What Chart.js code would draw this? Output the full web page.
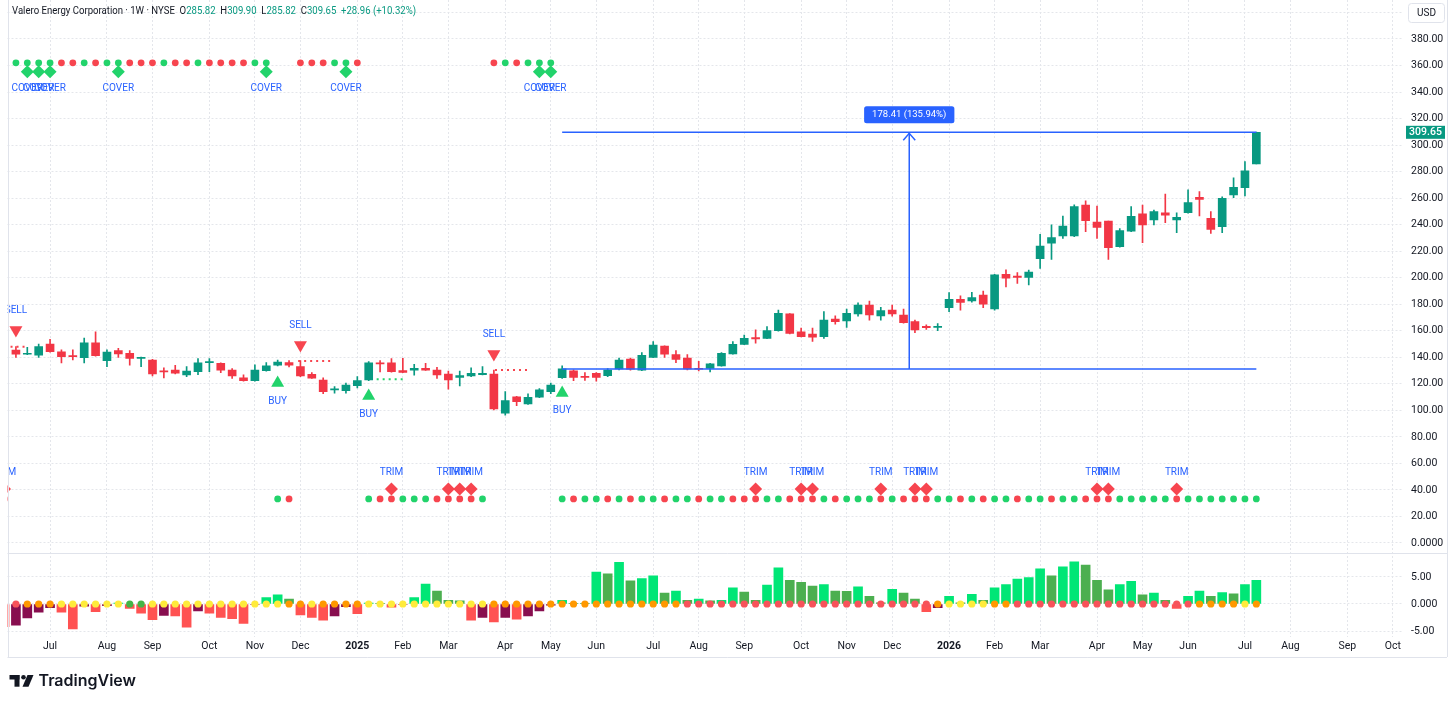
<!DOCTYPE html>
<html>
<head>
<meta charset="utf-8">
<title>VLO weekly</title>
<script src="https://cdn.jsdelivr.net/npm/chart.js@4.4.1/dist/chart.umd.min.js"></script>
<style>
  html, body { margin: 0; padding: 0; background: #fff; }
  #wrap { width: 1456px; height: 705px; }
</style>
</head>
<body>
<div id="wrap"><canvas id="chart" width="1456" height="705"></canvas></div>
<script>
// weekly bars, index 0 = week of 2024-06-03
const weekStart = Date.UTC(2024, 5, 3);
const axisWeeks = 124;
const monthNames = ['Jan','Feb','Mar','Apr','May','Jun','Jul','Aug','Sep','Oct','Nov','Dec'];

const opens = [null,
  145.5, 142.3, 141.7, 150.0, 144.2, 141.2, 139.7, 151.0, 137.5, 145.0,
  143.0, 139.2, 138.0, 129.7, 130.4, 126.7, 129.2, 136.0, 135.5, 130.4,
  124.6, 122.4, 129.9, 134.0, 136.0, 133.0, 127.2, 122.9, 115.5, 114.8,
  118.6, 122.9, 135.9, 135.9, 130.0, 130.4, 131.7, 130.4, 127.4, 124.9,
  125.9, 126.9, 127.4, 97.8, 110.3, 104.8, 109.9, 114.1, 124.6, 129.9,
  125.6, 128.0, 126.2, 131.2, 138.7, 130.4, 140.0, 148.5, 142.0, 139.5,
  131.7, 131.7, 133.5, 142.5, 149.8, 154.8, 154.3, 160.1, 172.7, 159.3,
  157.6, 155.5, 168.9, 167.4, 172.7, 179.4, 171.2, 175.7, 171.9, 166.9,
  163.4, 162.6, 177.5, 183.8, 182.5, 187.0, 176.4, 202.6, 201.3, 200.3,
  214.3, 226.0, 231.5, 231.5, 254.8, 242.0, 242.8, 223.4, 235.2, 248.1,
  243.5, 249.0, 243.5, 249.0, 260.6, 244.8, 238.5, 262.4, 267.9, 285.82];
const highs = [null,
  148.0, 147.5, 149.9, 153.6, 145.7, 145.7, 154.5, 159.3, 145.7, 146.7,
  145.0, 140.2, 138.5, 132.0, 134.0, 133.0, 139.0, 139.0, 135.8, 131.5,
  126.7, 134.4, 136.0, 138.0, 137.5, 137.5, 128.5, 124.5, 118.0, 120.5,
  125.4, 136.7, 137.5, 139.0, 139.3, 134.7, 135.5, 132.5, 129.7, 129.7,
  132.0, 133.0, 130.4, 114.1, 110.5, 112.4, 116.5, 120.5, 133.5, 130.5,
  128.5, 128.5, 131.5, 139.5, 139.5, 143.5, 151.8, 148.7, 145.0, 142.0,
  137.0, 135.5, 143.5, 151.8, 156.8, 160.7, 163.1, 175.7, 173.0, 162.0,
  162.0, 174.4, 171.2, 176.3, 181.0, 182.4, 177.6, 179.4, 176.3, 168.0,
  164.5, 165.5, 188.8, 186.4, 189.0, 190.0, 202.5, 206.0, 203.8, 205.8,
  232.7, 239.8, 246.5, 255.0, 257.9, 254.1, 242.8, 237.0, 253.6, 254.8,
  251.0, 263.1, 249.0, 266.2, 264.9, 249.8, 261.0, 275.4, 287.5, 309.90];
const lows = [null,
  140.0, 142.0, 139.9, 143.8, 135.8, 138.0, 135.8, 140.8, 133.0, 140.0,
  134.0, 133.0, 126.0, 124.4, 127.5, 125.5, 127.0, 129.2, 128.5, 124.0,
  122.0, 122.0, 129.5, 133.5, 132.8, 125.5, 124.0, 112.5, 113.0, 113.0,
  117.0, 122.4, 128.9, 128.8, 128.5, 126.5, 130.2, 124.0, 115.9, 118.4,
  125.5, 126.7, 100.3, 96.3, 103.5, 104.5, 109.5, 112.5, 124.0, 122.4,
  122.5, 122.0, 125.5, 130.5, 130.4, 130.0, 139.8, 140.0, 136.0, 130.5,
  129.7, 129.0, 133.3, 142.3, 149.5, 150.6, 154.0, 159.8, 157.6, 155.3,
  152.0, 154.3, 165.0, 162.6, 171.0, 168.0, 168.0, 171.0, 165.8, 158.6,
  161.0, 160.0, 174.5, 175.5, 181.5, 177.5, 175.5, 193.0, 195.8, 194.5,
  207.1, 213.9, 229.7, 231.0, 234.7, 229.7, 213.9, 223.0, 234.8, 226.4,
  239.8, 241.5, 234.0, 248.6, 246.6, 233.5, 234.0, 260.3, 261.6, 285.82];
const closes = [null,
  142.3, 143.0, 148.0, 144.2, 140.5, 140.5, 151.0, 141.2, 144.0, 142.5,
  139.2, 140.0, 127.4, 129.0, 128.0, 129.7, 135.9, 136.7, 130.4, 125.9,
  122.4, 130.4, 133.5, 136.4, 134.0, 125.9, 124.2, 114.1, 116.2, 119.1,
  122.4, 135.9, 135.0, 129.2, 128.7, 131.7, 130.4, 126.7, 122.9, 126.2,
  128.0, 127.9, 101.0, 107.3, 106.5, 109.9, 115.4, 119.1, 131.24, 124.9,
  124.9, 124.9, 130.4, 138.0, 131.0, 141.5, 149.3, 142.3, 138.5, 131.2,
  131.0, 135.0, 143.0, 149.8, 154.3, 153.8, 160.1, 173.2, 158.1, 155.5,
  155.1, 168.1, 166.9, 173.2, 179.4, 171.9, 175.2, 172.7, 166.1, 160.6,
  162.3, 163.4, 183.8, 181.4, 185.0, 180.0, 202.1, 199.6, 200.3, 204.3,
  223.9, 230.2, 239.0, 253.6, 243.0, 238.0, 222.6, 235.5, 246.3, 239.8,
  249.8, 247.1, 245.6, 256.6, 259.1, 236.5, 259.9, 268.2, 280.69, 309.65];

// lower pane oscillator, one value per week
const momentum = [
  -4.2, -3.9, -2.6, -1.5, -0.7, -1.5, -4.6, -0.4, -1.4, -0.3,
  0.15, -0.8, -1.7, -2.9, -2.1, -2.2, -4.3, -1.3, -1.7, -2.5,
  -2.7, -3.6, -0.1, 1.2, 1.7, 0.9, -2.0, -2.5, -3.0, -2.2,
  -0.5, -1.8, 0.15, 0.1, -0.6, -0.1, 1.2, 3.7, 2.4, 0.7,
  0.6, -3.0, -2.5, -3.3, -2.5, -2.8, -2.2, -1.3, -0.2, 0.7,
  0.1, 0.05, 5.9, 5.6, 7.7, 4.3, 4.7, 5.2, 2.0, 2.4,
  0.7, 0.9, 0.6, 0.7, 3.0, 2.2, 0.7, 3.5, 6.7, 4.4,
  4.0, 3.3, 3.6, 2.4, 2.35, 3.2, 1.4, 0.2, 2.7, 2.0,
  0.9, -1.4, -0.7, 1.4, 0.2, 1.8, 0.7, 3.0, 3.6, 4.6,
  4.9, 6.5, 5.2, 6.9, 7.8, 7.2, 4.4, 2.6, 3.6, 4.2,
  1.7, 2.0, 0.7, -0.8, 1.4, 2.4, 1.4, 2.1, 1.9, 3.6, 4.4];
// squeeze state dots on the zero line: R red, O orange, Y yellow, G green, - none
const squeezeState = ['-', 'R', 'OOO', 'YYYYYY', 'GG', 'YYYYYYYYYYYY', 'OO', 'Y', 'OOOO',
  'YYYYYYYYYYY', 'OOOOOOOOOOOOOOOOO', 'RRRRRRRRRRRRRRRRRRRRRR', 'O', 'YYYY', 'OO',
  'RRRRRRRRRRRRRRRR', 'OOOO', 'Y', 'O'].join('').split('');

// signal rows (G green / R red / - none)
const topRowState = ('-' + 'GGGGRRGRGGRRRGRRGRRRRGG' + '--' + 'RRRGGR' + '-----------' + 'RGRGGG').split('');
const bottomRowState = ('R' + '-----------------------' + 'GR' + '------' + 'GRRGGGRRRRG' + '------' +
  'GRGGRGRGGR' + 'GGRGGRRRGG' + 'RRRGRGGGRG' + 'RRRGGRGRGG' + 'RGGRGGRRRG' + 'GGGGRGGGGG' + 'GG').split('');
const topRowLevel = 362, coverLevel = 355.3;
const bottomRowLevel = 33.2, trimLevel = 40.7;
const coverIdx = [2, 3, 4, 10, 23, 30, 47, 48];
const trimIdx = [0, 34, 39, 40, 41, 66, 70, 71, 77, 80, 81, 96, 97, 103];
const sellIdx = [1, 26, 43], sellLevel = [160.6, 149.3, 142.5];
const buyIdx = [24, 32, 49], buyLevel = [120.6, 110.8, 113.1];
const stopFrom = [0, 25.8, 32.7, 43.1];
const stopTo = [1.8, 28.9, 35.0, 46.0];
const stopLevel = [148.0, 137.2, 123.4, 130.4];
const stopSide = ['sell', 'sell', 'buy', 'sell'];

// price range measurement
const measureFrom = 49, measureTo = 110;
const measureLow = 131.24, measureHigh = 309.65;

const priceTicks = [0, 20, 40, 60, 80, 100, 120, 140, 160, 180, 200, 220, 240, 260, 280, 300, 320, 340, 360, 380, 400];
const oscTicks = [-5, 0, 5];

const upColor = '#089981', downColor = '#f23645';
const gridColor = '#e4e6eb';
const textColor = '#131722';
const signalText = '#2962ff';
const sigGreen = '#22d36b', sigRed = '#f7454f';
const stateColors = { R: '#f7525a', O: '#ff9800', Y: '#ffeb3b', G: '#43b446' };
const FONT = 'Roboto, "DejaVu Sans", sans-serif';

// month ticks
const monthTicks = [];
let prevMonth = -1;
for (let i = 0; i < axisWeeks; i++) {
  const d = new Date(weekStart + i * 7 * 86400000);
  const m = d.getUTCMonth();
  if (m !== prevMonth) monthTicks.push({ value: i, label: m === 0 ? String(d.getUTCFullYear()) : monthNames[m] });
  prevMonth = m;
}
const tickLabel = {};
monthTicks.forEach(t => { tickLabel[t.value] = t.label; });

const bodyData = [], wickData = [], candleColors = [];
opens.forEach((o, i) => {
  if (o == null) return;
  bodyData.push({ x: i, y: [o, closes[i]] });
  wickData.push({ x: i, y: [lows[i], highs[i]] });
  candleColors.push(closes[i] >= o ? upColor : downColor);
});

const histData = momentum.map((v, i) => ({ x: i, y: v }));
const histColors = momentum.map((v, i) => {
  const prev = i > 0 ? momentum[i - 1] : 0;
  if (v >= 0) return v > prev ? '#00e676' : '#4caf50';
  return v < prev ? '#ff5252' : '#880e4f';
});

const zeroDots = [], zeroColors = [];
squeezeState.forEach((s, i) => { if (s !== '-') { zeroDots.push({ x: i, y: 0 }); zeroColors.push(stateColors[s]); } });

function rowDots(states, level) {
  const pts = [], cols = [];
  states.forEach((s, i) => { if (s !== '-') { pts.push({ x: i, y: level }); cols.push(s === 'G' ? sigGreen : sigRed); } });
  return { pts, cols };
}
const topRow = rowDots(topRowState, topRowLevel);
const bottomRow = rowDots(bottomRowState, bottomRowLevel);

const stopSets = stopFrom.map((f, k) => ({
  type: 'line', yAxisID: 'y', xAxisID: 'x', order: 6,
  data: [{ x: f, y: stopLevel[k] }, { x: stopTo[k], y: stopLevel[k] }],
  borderColor: stopSide[k] === 'sell' ? sigRed : sigGreen,
  borderWidth: 2, borderDash: [2, 4], pointRadius: 0, fill: false
}));

const measureMid = (measureFrom + measureTo) / 2;
const measureColor = '#2962ff';

const datasets = [
  { type: 'bar', label: 'osc', yAxisID: 'y2', xAxisID: 'x', order: 10, grouped: false,
    data: histData, backgroundColor: histColors, barThickness: 9 },
  { type: 'scatter', label: 'squeeze', yAxisID: 'y2', xAxisID: 'x', order: 9,
    data: zeroDots, pointBackgroundColor: zeroColors, pointBorderWidth: 0, pointRadius: 3.6 },
  { type: 'bar', label: 'wick', yAxisID: 'y', xAxisID: 'x', order: 8, grouped: false,
    data: wickData, backgroundColor: candleColors, barThickness: 1 },
  { type: 'bar', label: 'body', yAxisID: 'y', xAxisID: 'x', order: 7, grouped: false,
    data: bodyData, backgroundColor: candleColors, barThickness: 8, minBarLength: 1 },
  ...stopSets,
  { type: 'scatter', label: 'topRow', yAxisID: 'y', xAxisID: 'x', order: 5,
    data: topRow.pts, pointBackgroundColor: topRow.cols, pointBorderWidth: 0, pointRadius: 3.4 },
  { type: 'scatter', label: 'bottomRow', yAxisID: 'y', xAxisID: 'x', order: 5,
    data: bottomRow.pts, pointBackgroundColor: bottomRow.cols, pointBorderWidth: 0, pointRadius: 3.4 },
  { type: 'scatter', label: 'cover', yAxisID: 'y', xAxisID: 'x', order: 4,
    data: coverIdx.map(i => ({ x: i, y: coverLevel })), pointStyle: 'rectRot',
    pointBackgroundColor: sigGreen, pointBorderWidth: 0, pointRadius: 6.5 },
  { type: 'scatter', label: 'trim', yAxisID: 'y', xAxisID: 'x', order: 4,
    data: trimIdx.map(i => ({ x: i, y: trimLevel })), pointStyle: 'rectRot',
    pointBackgroundColor: sigRed, pointBorderWidth: 0, pointRadius: 6.5 },
  { type: 'scatter', label: 'sell', yAxisID: 'y', xAxisID: 'x', order: 3,
    data: sellIdx.map((i, k) => ({ x: i, y: sellLevel[k] })), pointStyle: 'triangle', rotation: 180,
    pointBackgroundColor: sigRed, pointBorderWidth: 0, pointRadius: 7.5 },
  { type: 'scatter', label: 'buy', yAxisID: 'y', xAxisID: 'x', order: 3,
    data: buyIdx.map((i, k) => ({ x: i, y: buyLevel[k] })), pointStyle: 'triangle',
    pointBackgroundColor: sigGreen, pointBorderWidth: 0, pointRadius: 7.5 },
  { type: 'line', label: 'measureHigh', yAxisID: 'y', xAxisID: 'x', order: 1,
    data: [{ x: measureFrom, y: measureHigh }, { x: measureTo, y: measureHigh }],
    borderColor: measureColor, borderWidth: 1.5, pointRadius: 0 },
  { type: 'line', label: 'measureLow', yAxisID: 'y', xAxisID: 'x', order: 1,
    data: [{ x: measureFrom, y: measureLow }, { x: measureTo, y: measureLow }],
    borderColor: measureColor, borderWidth: 1.5, pointRadius: 0 },
  { type: 'line', label: 'measureArrow', yAxisID: 'y', xAxisID: 'x', order: 1,
    data: [{ x: measureMid, y: measureLow }, { x: measureMid, y: measureHigh }],
    borderColor: measureColor, borderWidth: 1.5, pointRadius: 0 }
];

function roundRect(ctx, x, y, w, h, r) {
  ctx.beginPath();
  ctx.moveTo(x + r, y);
  ctx.arcTo(x + w, y, x + w, y + h, r);
  ctx.arcTo(x + w, y + h, x, y + h, r);
  ctx.arcTo(x, y + h, x, y, r);
  ctx.arcTo(x, y, x + w, y, r);
  ctx.closePath();
}

const overlay = {
  id: 'overlay',
  beforeDraw(chart) {
    const ctx = chart.ctx;
    ctx.save();
    ctx.fillStyle = '#ffffff';
    ctx.fillRect(0, 0, chart.width, chart.height);
    ctx.restore();
  },
  afterDatasetsDraw(chart) {
    const { ctx, chartArea: ca } = chart;
    const xs = chart.scales.x, ys = chart.scales.y;
    ctx.save();
    ctx.beginPath();
    ctx.rect(ca.left, ca.top, ca.right - ca.left, ca.bottom - ca.top);
    ctx.clip();
    ctx.font = '10px ' + FONT;
    ctx.fillStyle = signalText;
    ctx.textAlign = 'center';
    ctx.textBaseline = 'middle';
    sellIdx.forEach((i, k) => ctx.fillText('SELL', xs.getPixelForValue(i), ys.getPixelForValue(sellLevel[k]) - 19));
    buyIdx.forEach((i, k) => ctx.fillText('BUY', xs.getPixelForValue(i), ys.getPixelForValue(buyLevel[k]) + 18));
    coverIdx.forEach(i => ctx.fillText('COVER', xs.getPixelForValue(i), ys.getPixelForValue(coverLevel) + 17));
    trimIdx.forEach(i => ctx.fillText('TRIM', xs.getPixelForValue(i), ys.getPixelForValue(trimLevel) - 17));

    // measurement arrow head and label
    const mx = xs.getPixelForValue(measureMid);
    const my = ys.getPixelForValue(measureHigh);
    ctx.strokeStyle = measureColor;
    ctx.lineWidth = 1.5;
    ctx.beginPath();
    ctx.moveTo(mx - 6, my + 8);
    ctx.lineTo(mx, my + 1);
    ctx.lineTo(mx + 6, my + 8);
    ctx.stroke();
    const diff = measureHigh - measureLow;
    const label = diff.toFixed(2) + ' (' + (diff / measureLow * 100).toFixed(2) + '%)';
    ctx.font = '9.5px ' + FONT;
    const w = ctx.measureText(label).width + 16;
    roundRect(ctx, mx - w / 2, my - 26, w, 17, 2.5);
    ctx.fillStyle = measureColor;
    ctx.fill();
    ctx.fillStyle = '#ffffff';
    ctx.fillText(label, mx, my - 17.5);
    ctx.restore();
  },
  afterDraw(chart) {
    const { ctx, chartArea: ca } = chart;
    const ys = chart.scales.y, xs = chart.scales.x;
    ctx.save();
    // frame lines
    ctx.strokeStyle = '#e0e3eb';
    ctx.lineWidth = 1;
    ctx.beginPath();
    ctx.moveTo(ca.left, Math.round(ys.bottom) + 0.5); ctx.lineTo(1447, Math.round(ys.bottom) + 0.5);
    ctx.moveTo(ca.left, Math.round(xs.top + 20) + 0.5); ctx.lineTo(1447, Math.round(xs.top + 20) + 0.5);
    ctx.moveTo(Math.round(ca.left) + 0.5, 0); ctx.lineTo(Math.round(ca.left) + 0.5, xs.top + 20);
    ctx.moveTo(1447.5, 0); ctx.lineTo(1447.5, xs.top + 20);
    ctx.stroke();

    // header
    const last = opens.length - 1;
    const chg = closes[last] - closes[last - 1];
    const parts = [
      ['Valero Energy Corporation \u00b7 1W \u00b7 NYSE', textColor],
      ['  O', textColor], [opens[last].toFixed(2), upColor],
      ['  H', textColor], [highs[last].toFixed(2), upColor],
      ['  L', textColor], [lows[last].toFixed(2), upColor],
      ['  C', textColor], [closes[last].toFixed(2), upColor],
      ['  ' + (chg >= 0 ? '+' : '') + chg.toFixed(2) + ' (' + (chg >= 0 ? '+' : '') + (chg / closes[last - 1] * 100).toFixed(2) + '%)', upColor]
    ];
    ctx.font = '10.5px ' + FONT;
    ctx.textBaseline = 'middle';
    ctx.textAlign = 'left';
    const total = parts.reduce((s, p) => s + ctx.measureText(p[0]).width, 0);
    const sx = 404 / total;
    ctx.save();
    ctx.translate(12, 11);
    ctx.scale(sx, 1);
    let px = 0;
    parts.forEach(([t, c]) => { ctx.fillStyle = c; ctx.fillText(t, px, 0); px += ctx.measureText(t).width; });
    ctx.restore();

    // USD box
    roundRect(ctx, 1408.5, 3.5, 36, 19, 3);
    ctx.fillStyle = '#ffffff';
    ctx.fill();
    ctx.strokeStyle = '#e0e3eb';
    ctx.stroke();
    ctx.fillStyle = textColor;
    ctx.textAlign = 'center';
    ctx.font = '10px ' + FONT;
    ctx.fillText('USD', 1426.5, 13);

    // last price label
    const py = ys.getPixelForValue(closes[last]);
    ctx.fillStyle = upColor;
    ctx.fillRect(1406, py - 6.5, 39, 13);
    ctx.fillStyle = '#ffffff';
    ctx.font = '500 10.5px ' + FONT;
    ctx.fillText(closes[last].toFixed(2), 1425.5, py + 0.5);

    // TradingView mark
    ctx.fillStyle = textColor;
    ctx.fillRect(9.5, 675, 10, 4.5);
    ctx.fillRect(14.5, 675, 5, 11.7);
    ctx.beginPath();
    ctx.arc(23.5, 677.3, 2.3, 0, Math.PI * 2);
    ctx.fill();
    ctx.beginPath();
    ctx.moveTo(27.5, 675); ctx.lineTo(33.5, 675); ctx.lineTo(28.5, 686.7); ctx.lineTo(22.5, 686.7);
    ctx.closePath();
    ctx.fill();
    ctx.textAlign = 'left';
    ctx.font = '600 16px Inter, ' + FONT;
    ctx.fillText('TradingView', 38.5, 681.5);
    ctx.restore();
  }
};

const tickFont = { family: FONT, size: 10.5 };
const noPad = s => { s.paddingTop = 0; s.paddingBottom = 0; s.paddingLeft = 0; s.paddingRight = 0; };

new Chart(document.getElementById('chart'), {
  type: 'bar',
  data: { datasets },
  plugins: [overlay],
  options: {
    responsive: false,
    animation: false,
    events: [],
    layout: { padding: { left: 7.5, right: 0, top: 0, bottom: 0 }, autoPadding: false },
    plugins: { legend: { display: false }, tooltip: { enabled: false } },
    scales: {
      x: {
        type: 'linear', position: 'bottom', min: 0.26, max: 122.8, offset: false,
        afterBuildTicks: s => { s.ticks = monthTicks.filter(t => t.value >= s.min && t.value <= s.max).map(t => ({ value: t.value })); },
        afterFit: s => { s.height = 68; noPad(s); },
        grid: { color: gridColor, drawTicks: false, offset: false },
        border: { display: false, dash: [2, 2] },
        ticks: {
          autoSkip: false, maxRotation: 0, padding: 3, color: textColor,
          callback: v => tickLabel[v] || '',
          font: c => ({ family: FONT, size: 10.5, weight: (c.tick && /^\d{4}$/.test(tickLabel[c.tick.value] || '')) ? 'bold' : 'normal' })
        }
      },
      y: {
        type: 'linear', position: 'right', stack: 'panes', stackWeight: 553,
        min: -7.54, max: 409.4,
        afterBuildTicks: s => { s.ticks = priceTicks.map(v => ({ value: v })); },
        afterFit: s => { s.width = 54; noPad(s); },
        grid: { color: gridColor, drawTicks: false },
        border: { display: false, dash: [2, 2] },
        ticks: {
          autoSkip: false, padding: 9, color: textColor, font: tickFont,
          callback: v => v === 0 ? '0.0000' : (v === 400 ? '' : v.toFixed(2))
        }
      },
      y2: {
        type: 'linear', position: 'right', stack: 'panes', stackWeight: 84,
        min: -6.11, max: 9.44,
        afterBuildTicks: s => { s.ticks = oscTicks.map(v => ({ value: v })); },
        afterFit: s => { s.width = 54; noPad(s); },
        grid: { color: gridColor, drawTicks: false },
        border: { display: false, dash: [2, 2] },
        ticks: {
          autoSkip: false, padding: 9, color: textColor, font: tickFont,
          callback: v => v === 0 ? '0.000' : v.toFixed(2)
        }
      }
    }
  }
});
</script>
</body>
</html>
